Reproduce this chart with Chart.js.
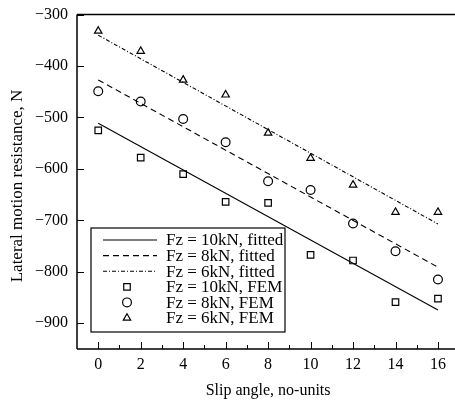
<!DOCTYPE html>
<html>
<head>
<meta charset="utf-8">
<script src="https://cdn.jsdelivr.net/npm/chart.js@4/dist/chart.umd.min.js"></script>
<style>
  html, body { margin: 0; padding: 0; background: #fff; overflow: hidden; }
  canvas { display: block; }
</style>
</head>
<body>
<canvas id="c" width="465" height="402"></canvas>
<script>
// valores
const slipAngles = [0, 2, 4, 6, 8, 10, 12, 14, 16];
const fem10 = [-525, -578, -610, -664, -666, -767, -778, -859, -852];
const fem8  = [-449, -469, -503, -548, -624, -641, -706, -760, -815];
const fem6  = [-332, -371, -427, -456, -530, -579, -631, -684, -684];

// retas ajustadas: valor em 0 e em 16
const fitX  = [0, 16];
const fit10 = [-511, -874];
const fit8  = [-427, -791];
const fit6  = [-340, -707];

const yTicks = [-300, -400, -500, -600, -700, -800, -900];
const xMajor = [0, 2, 4, 6, 8, 10, 12, 14, 16];
const xMinor = [1, 3, 5, 7, 9, 11, 13, 15];

const FONT = '"Liberation Serif", "Times New Roman", serif';
const pts = (xs, ys) => xs.map((x, i) => ({ x, y: ys[i] }));

const lineDs = (label, xs, ys, dash) => ({
  label, data: pts(xs, ys), borderColor: '#000', borderWidth: 1.1,
  borderDash: dash, pointRadius: 0, showLine: true, fill: false
});
const markDs = (label, ys, style, r) => ({
  label, data: pts(slipAngles, ys), showLine: false,
  pointStyle: style, pointRadius: r, pointBorderColor: '#000',
  pointBackgroundColor: 'rgba(0,0,0,0)', pointBorderWidth: 1.2
});

// moldura, marcas internas, título do eixo y e legenda dentro do gráfico
const framePlugin = {
  id: 'frame',
  afterDraw(chart) {
    const { ctx, chartArea: a, scales: { x, y } } = chart;
    ctx.save();
    ctx.strokeStyle = '#000';
    ctx.lineWidth = 1.5;
    ctx.beginPath();
    ctx.moveTo(a.left, a.top); ctx.lineTo(a.right, a.top);
    ctx.moveTo(a.left, a.top); ctx.lineTo(a.left, a.bottom);
    ctx.moveTo(a.left, a.bottom); ctx.lineTo(a.right, a.bottom);
    ctx.stroke();

    ctx.lineWidth = 1;
    ctx.beginPath();
    yTicks.forEach(v => {
      const py = Math.round(y.getPixelForValue(v)) + 0.5;
      ctx.moveTo(a.left, py); ctx.lineTo(a.left + 7, py);
    });
    xMajor.forEach(v => {
      const px = Math.round(x.getPixelForValue(v)) + 0.5;
      ctx.moveTo(px, a.bottom); ctx.lineTo(px, a.bottom - 7);
    });
    xMinor.forEach(v => {
      const px = Math.round(x.getPixelForValue(v)) + 0.5;
      ctx.moveTo(px, a.bottom); ctx.lineTo(px, a.bottom - 4);
    });
    ctx.stroke();

    // título do eixo y
    ctx.fillStyle = '#000';
    ctx.font = '17px ' + FONT;
    ctx.textAlign = 'center';
    ctx.textBaseline = 'middle';
    ctx.translate(18, 186);
    ctx.rotate(-Math.PI / 2);
    ctx.fillText('Lateral motion resistance, N', 0, 0);
    ctx.setTransform(1, 0, 0, 1, 0, 0);

    // legenda
    const bx = 91, by = 228, bw = 194, bh = 104;
    ctx.fillStyle = '#fff';
    ctx.fillRect(bx, by, bw, bh);
    ctx.strokeStyle = '#000';
    ctx.lineWidth = 1.2;
    ctx.strokeRect(bx, by, bw, bh);
    ctx.textAlign = 'left';
    ctx.font = '17px ' + FONT;
    chart.data.datasets.forEach((ds, i) => {
      const cy = by + 12 + i * 15.6;
      ctx.strokeStyle = '#000';
      if (ds.showLine) {
        ctx.lineWidth = ds.borderWidth;
        ctx.setLineDash(ds.borderDash || []);
        ctx.beginPath();
        ctx.moveTo(103, cy); ctx.lineTo(157, cy);
        ctx.stroke();
        ctx.setLineDash([]);
      } else {
        ctx.fillStyle = '#fff';
        ctx.lineWidth = ds.pointBorderWidth;
        Chart.helpers.drawPoint(ctx, {
          pointStyle: ds.pointStyle, radius: ds.pointRadius, borderWidth: ds.pointBorderWidth
        }, 127, cy);
      }
      ctx.fillStyle = '#000';
      ctx.fillText(ds.label, 166, cy + 1);
    });
    ctx.restore();
  }
};

new Chart(document.getElementById('c'), {
  type: 'line',
  data: {
    datasets: [
      lineDs('Fz = 10kN, fitted', fitX, fit10, []),
      lineDs('Fz = 8kN, fitted', fitX, fit8, [6, 4]),
      lineDs('Fz = 6kN, fitted', fitX, fit6, [4, 2, 1, 2]),
      markDs('Fz = 10kN, FEM', fem10, 'rect', 4.6),
      markDs('Fz = 8kN, FEM', fem8, 'circle', 4.4),
      markDs('Fz = 6kN, FEM', fem6, 'triangle', 4.3)
    ]
  },
  plugins: [framePlugin],
  options: {
    responsive: false,
    animation: false,
    layout: { padding: { top: 13, right: 5, left: 0, bottom: 0 } },
    plugins: { legend: { display: false }, tooltip: { enabled: false } },
    scales: {
      x: {
        type: 'linear', min: -1, max: 17,
        afterBuildTicks: s => { s.ticks = xMajor.map(v => ({ value: v })); },
        afterFit: s => { s.height = 53; },
        grid: { display: false, tickLength: 4 },
        border: { display: false },
        ticks: { color: '#000', font: { family: FONT, size: 16 }, padding: 2, maxRotation: 0 },
        title: { display: true, text: 'Slip angle, no-units', color: '#000',
                 font: { family: FONT, size: 16 }, padding: { top: 8, bottom: 2 } }
      },
      y: {
        type: 'linear', min: -950, max: -300,
        afterBuildTicks: s => { s.ticks = yTicks.map(v => ({ value: v })); },
        afterFit: s => { s.width = 77; },
        grid: { display: false, tickLength: 4 },
        border: { display: false },
        ticks: { color: '#000', font: { family: FONT, size: 16 }, padding: 5,
                 callback: v => String(v).replace('-', '\u2212') }
      }
    }
  }
});
</script>
</body>
</html>
